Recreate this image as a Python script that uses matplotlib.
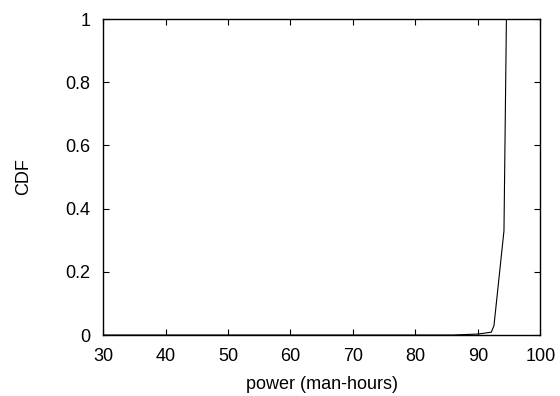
import matplotlib
matplotlib.use("Agg")
import matplotlib.pyplot as plt

# CDF of power
power = [30, 86, 90, 92.15, 92.57, 94.17, 94.56]
cdf = [0.0, 0.0, 0.003, 0.009, 0.03, 0.33, 1.0]

xticks = [30, 40, 50, 60, 70, 80, 90, 100]
yticks = [0, 0.2, 0.4, 0.6, 0.8, 1]
ytick_labels = ["0", "0.2", "0.4", "0.6", "0.8", "1"]

plt.rcParams['font.family'] = ['Liberation Sans', 'DejaVu Sans']

fig = plt.figure(figsize=(5.6, 3.96), dpi=100)
ax = fig.add_axes([0.184, 0.154, 0.781, 0.798])

ax.plot(power, cdf, color='black', linewidth=0.8)

ax.set_xlim(30, 100)
ax.set_ylim(0, 1)
ax.set_xticks(xticks)
ax.set_yticks(yticks)
ax.set_yticklabels(ytick_labels)
ax.tick_params(direction='in', top=True, right=True, length=4, width=0.8,
               labelsize=13, pad=9)
for s in ax.spines.values():
    s.set_linewidth(1.0)

ax.set_xlabel('power (man-hours)', fontsize=13, labelpad=8)
ax.set_ylabel('CDF', fontsize=13, labelpad=24)

fig.savefig('out.png', dpi=100)
